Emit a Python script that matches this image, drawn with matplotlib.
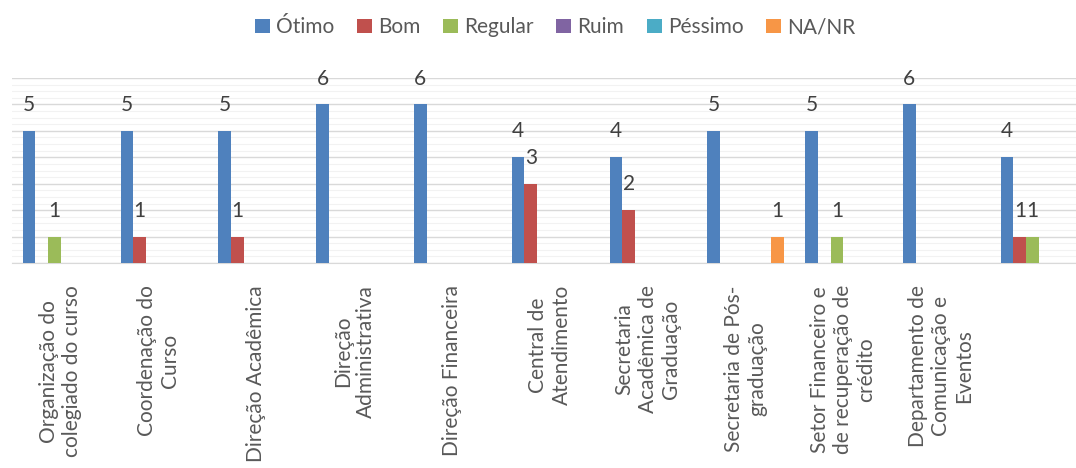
import matplotlib
matplotlib.use("Agg")
import matplotlib.pyplot as plt
import numpy as np

categories = [
    "Organização do\ncolegiado do curso",
    "Coordenação do\nCurso",
    "Direção Acadêmica",
    "Direção\nAdministrativa",
    "Direção Financeira",
    "Central de\nAtendimento",
    "Secretaria\nAcadêmica de\nGraduação",
    "Secretaria de Pós-\ngraduação",
    "Setor Financeiro e\nde recuperação de\ncrédito",
    "Departamento de\nComunicação e\nEventos",
    "",
]
series_names = ["Ótimo", "Bom", "Regular", "Ruim", "Péssimo", "NA/NR"]
otimo = [5, 5, 5, 6, 6, 4, 4, 5, 5, 6, 4]
bom = [0, 1, 1, 0, 0, 3, 2, 0, 0, 0, 1]
regular = [1, 0, 0, 0, 0, 0, 0, 0, 1, 0, 1]
ruim = [0, 0, 0, 0, 0, 0, 0, 0, 0, 0, 0]
pessimo = [0, 0, 0, 0, 0, 0, 0, 0, 0, 0, 0]
na_nr = [0, 0, 0, 0, 0, 0, 0, 1, 0, 0, 0]
colors = ["#4F81BD", "#C0504D", "#9BBB59", "#8064A2", "#4BACC6", "#F79646"]

plt.rcParams["font.family"] = ["Lato", "DejaVu Sans"]


def main():
    values = [otimo, bom, regular, ruim, pessimo, na_nr]
    fig = plt.figure(figsize=(10.76, 4.68), dpi=100)
    ax = fig.add_axes([12 / 1076, 205 / 468, 1064 / 1076, 185 / 468])

    x = np.arange(len(categories))
    w = 0.13
    start = -0.5 + 0.11
    for j, (name, vals, c) in enumerate(zip(series_names, values, colors)):
        pos = x + start + (j + 0.5) * w
        ax.bar(pos, vals, width=w, color=c, label=name, zorder=3)
        for p, v in zip(pos, vals):
            if v:
                ax.text(p, v + 0.6, str(v), ha="center", va="bottom",
                        fontsize=15, color="#404040")

    ax.set_ylim(0, 7)
    ax.set_xlim(-0.5, -0.5 + 1064 / 97.8)
    ax.set_yticks(np.arange(0, 8))
    ax.set_yticks(np.arange(0, 7, 0.25), minor=True)
    ax.grid(axis="y", which="major", color="#D9D9D9", linewidth=1.0, zorder=0)
    ax.grid(axis="y", which="minor", color="#F2F2F2", linewidth=0.8, zorder=0)
    ax.tick_params(axis="y", which="both", left=False, labelleft=False)
    ax.tick_params(axis="x", length=0, pad=16)
    for s in ["top", "right", "left"]:
        ax.spines[s].set_visible(False)
    ax.spines["bottom"].set_color("#D9D9D9")

    ax.set_xticks(x)
    ax.set_xticklabels(categories, rotation=90, ha="center", va="top",
                       multialignment="center", fontsize=15, color="#595959")

    fig.legend(loc="center", bbox_to_anchor=(0.516, 0.942), ncol=6,
               frameon=False, fontsize=15, handlelength=0.7, handleheight=0.7,
               handletextpad=0.3, columnspacing=1.1, labelcolor="#595959")

    fig.savefig("out.png", dpi=100)


if __name__ == "__main__":
    main()
